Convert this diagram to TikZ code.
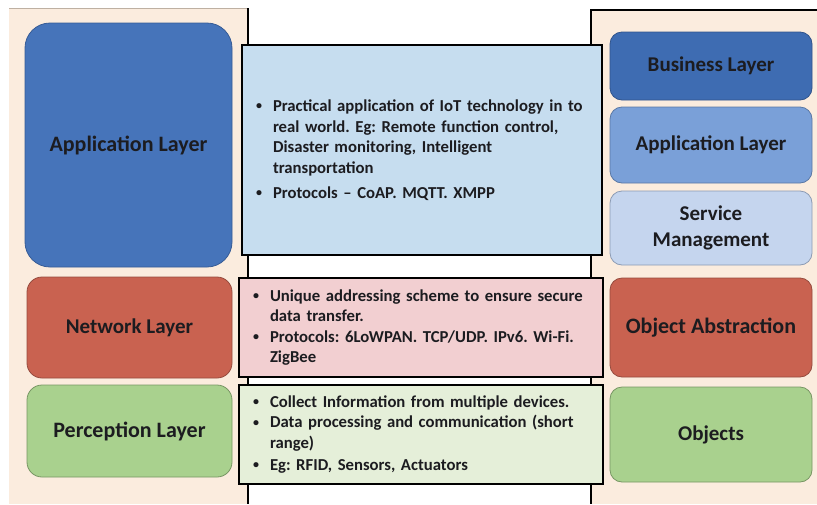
\documentclass[tikz,border=0pt]{standalone}
\usepackage{fontspec}
\setmainfont{Carlito}
\frenchspacing
\definecolor{beige}{RGB}{251,236,222}
\definecolor{panelline}{RGB}{190,176,162}
\definecolor{appblue}{RGB}{70,116,186}
\definecolor{appblueD}{RGB}{55,92,150}
\definecolor{netred}{RGB}{201,98,80}
\definecolor{netredD}{RGB}{150,75,62}
\definecolor{pergreen}{RGB}{169,209,142}
\definecolor{pergreenD}{RGB}{120,150,100}
\definecolor{busblue}{RGB}{62,108,178}
\definecolor{busblueD}{RGB}{48,84,140}
\definecolor{midblue}{RGB}{122,160,216}
\definecolor{midblueD}{RGB}{90,120,165}
\definecolor{paleblue}{RGB}{197,213,238}
\definecolor{paleblueD}{RGB}{140,155,180}
\definecolor{cblue}{RGB}{198,221,239}
\definecolor{cpink}{RGB}{242,207,209}
\definecolor{cgreen}{RGB}{229,239,217}
\definecolor{txt}{RGB}{28,28,32}
\tikzset{
  layerbox/.style={rounded corners=#1, line width=0.8pt, align=center, text=txt,
    font=\bfseries\fontsize{21}{26}\selectfont, inner sep=0pt},
  bigger/.style={font=\bfseries\fontsize{22}{26}\selectfont},
  descbox/.style={draw=black, line width=2.2pt, align=left, text=txt,
    inner xsep=14pt, inner ysep=0pt,
    font=\bfseries\fontsize{16.7}{20.5}\selectfont},
  vline/.style={line width=1.3pt, black}
}
\newcommand\bl{\makebox[17pt][l]{\raisebox{1.6pt}{\fontsize{12}{12}\selectfont\textbullet}}}
\newcommand\ind{\hspace*{17pt}}
\begin{document}
\begin{tikzpicture}[x=1pt,y=-1pt]
\useasboundingbox (0,0) rectangle (817,504);
% left panel
\fill[beige] (9,8) rectangle (248,504);
\draw[panelline, line width=1pt] (9,8) -- (248,8);
\coordinate (ltop) at (248,8);
\coordinate (lbot) at (248,504);
\draw[vline] (ltop) -- (lbot);
% right panel
\fill[beige] (591,10) rectangle (817,504);
\coordinate (rtopR) at (817,10);
\coordinate (rtop) at (591,10);
\coordinate (rbot) at (591,504);
\draw[vline] (rtopR) -- (rtop) -- (rbot);

% left layers
\node[layerbox=25pt, bigger, fill=appblue, draw=appblueD, minimum width=207pt, minimum height=244pt]
  (lapp) at (128.5,145) {Application Layer};
\node[layerbox=15pt, fill=netred, draw=netredD, minimum width=205pt, minimum height=101pt]
  (lnet) at (129.5,327.5) {Network Layer};
\node[layerbox=15pt, bigger, fill=pergreen, draw=pergreenD, minimum width=205pt, minimum height=92pt]
  (lper) at (129.5,431) {Perception Layer};

% right layers
\node[layerbox=12pt, fill=busblue, draw=busblueD, minimum width=202pt, minimum height=68pt]
  (rbus) at (711,66) {Business Layer};
\node[layerbox=12pt, fill=midblue, draw=midblueD, minimum width=202pt, minimum height=76pt]
  (rapp) at (711,145) {Application Layer};
\node[layerbox=12pt, fill=paleblue, draw=paleblueD, minimum width=202pt, minimum height=74pt]
  (rsrv) at (711,228) {Service\\Management};
\node[layerbox=12pt, bigger, fill=netred, draw=netredD, minimum width=202pt, minimum height=99pt]
  (robj) at (711,327.5) {Object Abstraction};
\node[layerbox=12pt, fill=pergreen, draw=pergreenD, minimum width=202pt, minimum height=95pt]
  (rob) at (711,434.5) {Objects};

% centre descriptions
\node[descbox, fill=cblue, text width=332pt, minimum height=210pt] (capp) at (422,150)
 {\bl Practical application of IoT technology in to\\
  \ind real world. Eg: Remote function control,\\
  \ind Disaster monitoring, Intelligent\\
  \ind transportation\\[4.5pt]
  \bl Protocols -- CoAP. MQTT. XMPP};
\node[descbox, fill=cpink, text width=336pt, minimum height=99pt] (cnet) at (421,327.5)
 {\bl Unique addressing scheme to ensure secure\\
  \ind data transfer.\\
  \bl Protocols: 6LoWPAN. TCP/UDP. IPv6. Wi-Fi.\\
  \ind ZigBee};
\node[descbox, fill=cgreen, text width=336pt, minimum height=99pt] (cper) at (421,434.5)
 {\bl Collect Information from multiple devices.\\
  \bl Data processing and communication (short\\
  \ind range)\\[1.5pt]
  \bl Eg: RFID, Sensors, Actuators};
\end{tikzpicture}
\end{document}
